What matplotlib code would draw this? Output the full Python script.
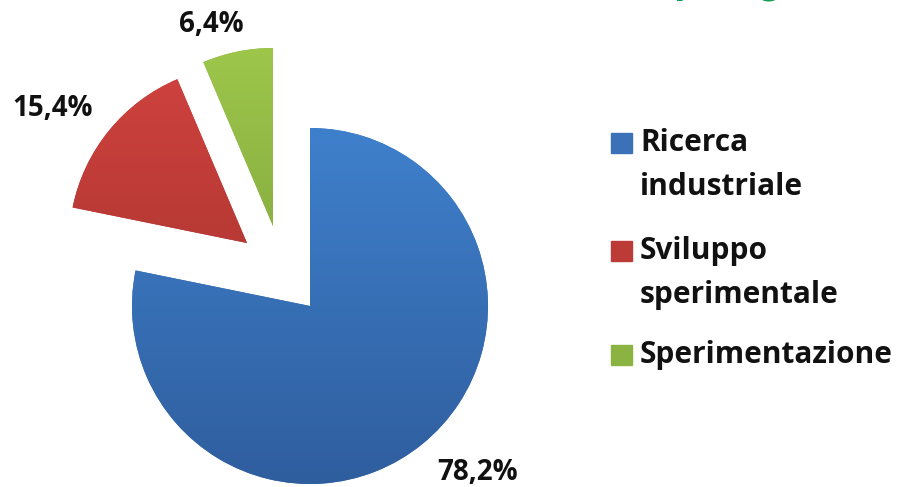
import numpy as np
import matplotlib.pyplot as plt
from matplotlib.colors import LinearSegmentedColormap
from matplotlib.patches import Rectangle

# data
categories = ["Ricerca\nindustriale", "Sviluppo\nsperimentale", "Sperimentazione"]
values = [78.2, 15.4, 6.4]
pct_labels = ["78,2%", "15,4%", "6,4%"]

# gradient colours (top, bottom) per slice
tops = ["#3F80CC", "#CF423E", "#9DC64B"]
bottoms = ["#2F5E9E", "#A0302C", "#779C38"]
mids = ["#3A71B8", "#BC3B37", "#8BB342"]

W, H = 905, 487
fig = plt.figure(figsize=(W / 100, H / 100), dpi=100)
ax = fig.add_axes([0, 0, 1, 1])

cx, cy, r = 310, H - 306, 178
wedges, _ = ax.pie(values, startangle=90, counterclock=False, radius=r,
                   center=(cx, cy), colors=mids,
                   wedgeprops=dict(linewidth=0))

# explode red and green slices (offsets in pixels)
offsets = [(0, 0), (-63, 63), (-37, 80)]
label_pos = [(478, H - 473), (53, H - 108), (211, H - 24)]

grad = np.linspace(0, 1, 256).reshape(-1, 1)
for w, (dx, dy), top, bot, lab, (lx, ly) in zip(wedges, offsets, tops, bottoms,
                                                pct_labels, label_pos):
    c = (cx + dx, cy + dy)
    w.set_center(c)
    cmap = LinearSegmentedColormap.from_list("g", [bot, top])
    im = ax.imshow(grad, cmap=cmap, origin="lower", aspect="auto",
                   extent=(c[0] - r, c[0] + r, c[1] - r, c[1] + r), zorder=2)
    im.set_clip_path(w)
    ax.text(lx, ly, lab, ha="center", va="center", fontsize=20,
            fontweight="bold", family="Open Sans", color="#111111")

# legend drawn by hand so squares sit on the first line
leg_y = [H - 143, H - 251, H - 355]
for cat, col, y in zip(categories, mids, leg_y):
    ax.add_patch(Rectangle((611, y - 10), 21, 20, color=col, zorder=3))
    ax.text(640, y + 15, cat, ha="left", va="top", fontsize=21.5,
            fontweight="bold", family="Open Sans", color="#111111",
            linespacing=1.6)

# title cut off at the top of the picture
ax.text(819, H + 7.3, "tipologia", ha="right", va="baseline",
        fontsize=33, fontweight="bold", style="italic", family="Lato",
        color="#12A050")

ax.set_xlim(0, W)
ax.set_ylim(0, H)
ax.axis("off")

fig.savefig("out.png", dpi=100)
